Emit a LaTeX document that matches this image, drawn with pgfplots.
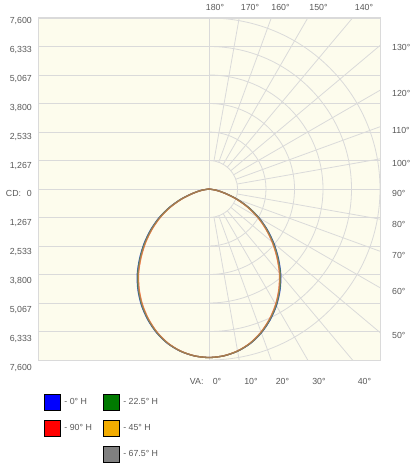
\documentclass[border=0pt]{standalone}
\usepackage{fontspec}
\setmainfont{Liberation Sans}
\usepackage{pgfplots}
\usepackage{pgfplotstable}
\pgfplotsset{compat=1.18}
\definecolor{bgc}{RGB}{253,252,237}
\definecolor{gridc}{RGB}{218,218,218}
\definecolor{txt}{RGB}{88,88,88}
\definecolor{cblue}{RGB}{0,0,255}
\definecolor{cred}{RGB}{255,0,0}
\definecolor{cgreen}{RGB}{0,122,0}
\definecolor{corange}{RGB}{242,172,0}
\definecolor{cgray}{RGB}{128,128,128}

% vertical angle from nadir (deg), candela in the 0, 22.5, 67.5, 45 and 90 deg H planes
\pgfplotstableread{
ang  b     g     y     o     r
-90  0     0     0     0     0
-80  344   341   336   333   330
-75  757   750   740   733   726
-70  1329  1317  1300  1289  1278
-65  1947  1932  1909  1893  1877
-60  2568  2549  2521  2502  2483
-55  3166  3145  3114  3093  3072
-50  3765  3743  3711  3689  3667
-45  4359  4338  4305  4284  4263
-40  4960  4940  4909  4889  4869
-35  5499  5481  5454  5436  5418
-30  5990  5975  5953  5938  5923
-25  6422  6410  6393  6382  6371
-20  6801  6793  6781  6773  6765
-15  7106  7101  7094  7089  7084
-10  7319  7317  7313  7311  7309
-5   7446  7445  7445  7444  7443
0    7489  7489  7489  7489  7489
5    7446  7445  7445  7444  7443
10   7319  7317  7313  7311  7309
15   7106  7101  7094  7089  7084
20   6801  6793  6781  6773  6765
25   6422  6410  6393  6382  6371
30   5990  5975  5953  5938  5923
35   5499  5481  5454  5436  5418
40   4960  4940  4909  4889  4869
45   4359  4338  4305  4284  4263
50   3765  3743  3711  3689  3667
55   3166  3145  3114  3093  3072
60   2568  2549  2521  2502  2483
65   1947  1932  1909  1893  1877
70   1329  1317  1300  1289  1278
75   757   750   740   733   726
80   344   341   336   333   330
90   0     0     0     0     0
}\lum

\begin{document}
\begin{tikzpicture}[every node/.style={font=\fontsize{8.8}{10}\selectfont, text=txt, inner sep=0pt}]
\useasboundingbox (0,0) rectangle (417pt,-463pt);
\begin{axis}[
  at={(38pt,-360pt)}, anchor=south west,
  width=342pt, height=342pt, scale only axis,
  xmin=-7600, xmax=7600, ymin=-7600, ymax=7600,
  clip=false,
  axis background/.style={fill=bgc},
  axis line style={draw=gridc, line width=1pt},
  xtick={0}, ytick={-7600,-6333.33,-5066.67,-3800,-2533.33,-1266.67,0,1266.67,2533.33,3800,5066.67,6333.33,7600},
  xticklabels={}, yticklabels={},
  major tick length=0pt,
  grid=major, grid style={draw=gridc, line width=0.8pt},
  legend columns=2,
  legend style={at={(0.0175,-0.0994)}, anchor=north west, draw=none, fill=none,
    inner sep=0pt, outer sep=0pt, row sep=9.5pt,
    nodes={inner sep=0pt, anchor=west},
    font=\fontsize{8.8}{10}\selectfont, text=txt,
    /tikz/every odd column/.append style={column sep=4pt},
    /tikz/every even column/.append style={column sep=11pt}},
  legend cell align=left,
  legend image code/.code={\fill[#1] (0pt,-8pt) rectangle (16pt,8pt);},
]
\begin{scope}
\clip (axis cs:0,-7600) rectangle (axis cs:7600,7600);
\draw[gridc, line width=0.8pt] (axis cs:0,-1266.67) arc[start angle=-90,end angle=90,radius=28.5pt];
\draw[gridc, line width=0.8pt] (axis cs:0,-2533.33) arc[start angle=-90,end angle=90,radius=57pt];
\draw[gridc, line width=0.8pt] (axis cs:0,-3800) arc[start angle=-90,end angle=90,radius=85.5pt];
\draw[gridc, line width=0.8pt] (axis cs:0,-5066.67) arc[start angle=-90,end angle=90,radius=114pt];
\draw[gridc, line width=0.8pt] (axis cs:0,-6333.33) arc[start angle=-90,end angle=90,radius=142.5pt];
\draw[gridc, line width=0.8pt] (axis cs:0,-7600) arc[start angle=-90,end angle=90,radius=171pt];
\pgfplotsinvokeforeach{-80,-70,-60,-50,-40,-30,-20,-10,0,10,20,30,40,50,60,70,80}{
  \draw[gridc, line width=0.8pt] (axis cs:{1266.67*cos(#1)},{1266.67*sin(#1)}) -- (axis cs:{14000*cos(#1)},{14000*sin(#1)});
}
\end{scope}

\addplot[cblue, line width=1.3pt, smooth, opacity=0.6, forget plot] table[x expr={\thisrow{b}*sin(\thisrow{ang})}, y expr={-\thisrow{b}*cos(\thisrow{ang})}] {\lum};
\addplot[cgreen, line width=1.3pt, smooth, opacity=0.6, forget plot] table[x expr={\thisrow{g}*sin(\thisrow{ang})}, y expr={-\thisrow{g}*cos(\thisrow{ang})}] {\lum};
\addplot[cred, line width=1.3pt, smooth, opacity=0.6, forget plot] table[x expr={\thisrow{r}*sin(\thisrow{ang})}, y expr={-\thisrow{r}*cos(\thisrow{ang})}] {\lum};
\addplot[corange, line width=1.3pt, smooth, opacity=0.6, forget plot] table[x expr={\thisrow{o}*sin(\thisrow{ang})}, y expr={-\thisrow{o}*cos(\thisrow{ang})}] {\lum};
\addplot[cgray, line width=1.3pt, smooth, opacity=0.6, forget plot] table[x expr={\thisrow{y}*sin(\thisrow{ang})}, y expr={-\thisrow{y}*cos(\thisrow{ang})}] {\lum};

\addlegendimage{fill=cblue}\addlegendentry{- 0° H}
\addlegendimage{fill=cgreen}\addlegendentry{- 22.5° H}
\addlegendimage{fill=cred}\addlegendentry{- 90° H}
\addlegendimage{fill=corange}\addlegendentry{- 45° H}
\addlegendimage{empty legend}\addlegendentry{}
\addlegendimage{fill=cgray}\addlegendentry{- 67.5° H}
\end{axis}

% left CD labels
\node[anchor=mid east] at (32pt,-20.7pt) {7,600};
\node[anchor=mid east] at (32pt,-49.6pt) {6,333};
\node[anchor=mid east] at (32pt,-78.6pt) {5,067};
\node[anchor=mid east] at (32pt,-107.5pt) {3,800};
\node[anchor=mid east] at (32pt,-136.4pt) {2,533};
\node[anchor=mid east] at (32pt,-165.4pt) {1,267};
\node[anchor=mid west] at (5.7pt,-194.3pt) {CD:};
\node[anchor=mid east] at (32pt,-194.3pt) {0};
\node[anchor=mid east] at (32pt,-223.2pt) {1,267};
\node[anchor=mid east] at (32pt,-252.1pt) {2,533};
\node[anchor=mid east] at (32pt,-281.1pt) {3,800};
\node[anchor=mid east] at (32pt,-310pt) {5,067};
\node[anchor=mid east] at (32pt,-338.9pt) {6,333};
\node[anchor=mid east] at (32pt,-367.9pt) {7,600};
% top angle labels
\node[anchor=mid] at (215pt,-8.3pt) {180°};
\node[anchor=mid] at (250pt,-8.3pt) {170°};
\node[anchor=mid] at (280.5pt,-8.3pt) {160°};
\node[anchor=mid] at (318.5pt,-8.3pt) {150°};
\node[anchor=mid] at (364pt,-8.3pt) {140°};
% right angle labels
\node[anchor=mid west] at (392pt,-48pt) {130°};
\node[anchor=mid west] at (392pt,-94pt) {120°};
\node[anchor=mid west] at (392pt,-131pt) {110°};
\node[anchor=mid west] at (392pt,-164pt) {100°};
\node[anchor=mid west] at (392pt,-193.5pt) {90°};
\node[anchor=mid west] at (392pt,-225pt) {80°};
\node[anchor=mid west] at (392pt,-256pt) {70°};
\node[anchor=mid west] at (392pt,-292pt) {60°};
\node[anchor=mid west] at (392pt,-336pt) {50°};
% bottom angle labels
\node[anchor=mid] at (196.7pt,-381.5pt) {VA:};
\node[anchor=mid] at (217pt,-381.5pt) {0°};
\node[anchor=mid] at (251pt,-381.5pt) {10°};
\node[anchor=mid] at (282.5pt,-381.5pt) {20°};
\node[anchor=mid] at (319pt,-381.5pt) {30°};
\node[anchor=mid] at (364.5pt,-381.5pt) {40°};
\end{tikzpicture}
\end{document}
